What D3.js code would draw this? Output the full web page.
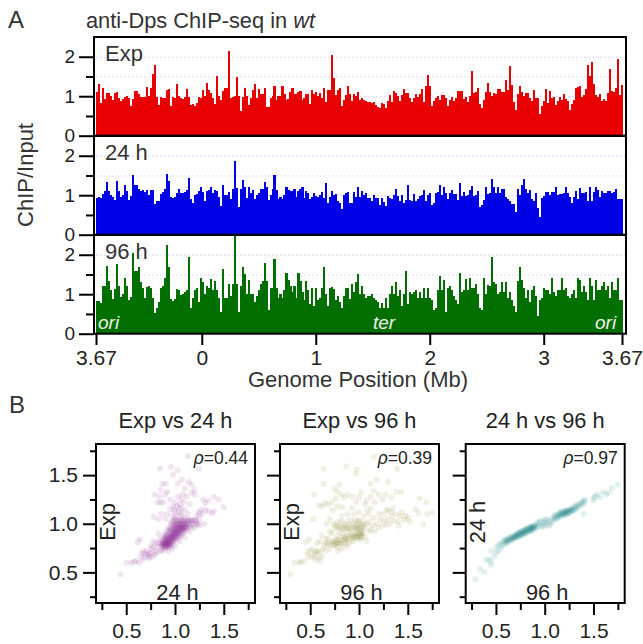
<!DOCTYPE html>
<html lang="en">
<head>
<meta charset="UTF-8">
<title>anti-Dps ChIP-seq in wt</title>
<style>
    body { margin: 0; background: #fff; }
    svg { display: block; }
    text { font-family: "Liberation Sans", Arial, sans-serif; fill: #333; }
    .axis text { fill: #222; }
    .grid { stroke: #d8d8ff; stroke-width: 1; stroke-dasharray: 2 2; }
</style>
</head>
<body>
<div id="chart"></div>
<script src="https://d3js.org/d3.v7.min.js"></script>
<script>
// binned ChIP/Input along the genome
const expValues = [
    1.1,1.3,.82,1.22,.94,1.07,1.07,1.0,.9,1.08,
    1.1,.95,.88,.93,.97,1.0,.95,.75,.92,1.13,
    1.13,1.05,.98,.99,.99,1.24,1.0,1.22,1.56,1.8,
    .98,.78,.97,.96,.96,1.17,1.18,.76,.98,.96,
    1.32,1.0,.95,.93,.98,1.18,.98,.78,.8,.75,
    .82,.98,.95,1.15,1.0,1.33,1.15,1.07,.96,.8,
    1.52,1.0,.9,1.12,1.22,1.2,2.14,.95,.98,1.0,
    1.48,1.0,.62,.97,1.2,1.0,.78,.95,1.15,1.32,
    .95,1.18,1.05,1.05,1.2,.72,.72,.95,1.0,1.25,
    .9,1.0,1.0,1.25,1.05,.9,.92,1.1,1.2,1.05,
    1.05,1.1,1.12,.9,.95,1.05,1.05,.8,1.15,1.05,
    1.1,1.0,
    1.07,.95,1.2,.85,1.15,1.15,2.04,1.45,1.03,1.15,
    1.2,.75,.9,1.03,1.25,1.05,.87,1.05,1.0,1.1,
    .9,.95,.9,.87,.85,.85,.82,.85,.77,.72,
    .7,.82,.8,.7,.88,1.03,.85,1.13,1.07,1.0,
    .87,1.03,1.18,1.07,1.07,.95,.85,.95,1.05,.97,
    1.05,1.18,.85,1.25,1.53,1.25,.75,.88,.95,1.0,
    .9,1.03,1.03,.95,.75,.9,.97,.87,.95,1.13,
    1.13,1.14,.92,.97,.85,1,1.64,1.08,1.1,1.2,
    .8,.7,.9,1.1,1.33,1.1,1,1.08,1.05,1.18,
    1.18,1.1,1.1,1.4,1.15,1.76,1.28,.85,.65,1.05,
    1.25,1.1,1,1.07,1.07,.95,.87,1.15,.95,.95,
    .55,.75,.87,1.18,.82,1.13,.95,.97,.77,.87,
    .97,.9,1.05,.92,.87,.64,.8,.9,1.2,1.23,
    1.25,.97,1.03,1.18,1.79,1.5,1.86,1.3,1.03,.97,
    1.05,.87,.92,.87,1.08,1.68,1.13,1.1,1.2,1.94,
    1.03,1.28
];
const h24Values = [
    .93,.95,.92,1.03,1.1,1.33,1.1,1.0,.95,.88,
    1.37,1.1,.95,1.0,1.25,1.1,.88,.98,1.52,1.25,
    1.27,1.15,1.1,1.13,1.08,1.13,1.0,1.13,1.12,.78,
    .85,.85,1.03,1.08,1.17,1.53,1.35,.95,.94,.96,
    1.05,1.15,1.05,1.06,1.08,1.13,1.43,.9,.8,1.0,
    1.03,1.1,1.2,1.08,.85,1.1,1.13,1.2,1.05,1.13,
    1.1,.95,.72,1.25,1.0,1.0,1.08,.9,1.17,1.87,
    1.18,.7,1.15,1.38,1.2,.92,1.2,1.05,1.12,.9,
    1.0,1.05,1.17,1.17,1.33,1.2,.88,1.0,1.15,1.5,
    1.13,.9,.95,.9,1.0,1.22,1.13,1.1,1.1,1.17,
    .95,1.1,1.15,1.2,.92,1.1,1.05,.9,.95,1.05,
    .98,.95,
    1.0,1.08,.93,1.32,.8,.95,1.1,1.0,1.03,.85,
    .8,.65,1.0,1.05,1.07,.8,.8,1.08,.95,1.22,
    .95,1.1,1.0,1.05,.92,.92,.85,1.0,.92,.93,
    .75,.93,.82,.72,.97,.92,.9,1.0,1.17,.97,
    .85,1.0,.8,.88,1.25,.87,.85,1.02,.85,.9,
    .97,1.0,1.13,.85,1.0,1.05,.75,.8,1.05,1.08,
    1.25,1.0,1.22,1.05,.9,1.05,1.13,1.03,1.03,.88,
    1.3,.98,1.08,.98,1.0,1.13,1.23,.98,1.0,1.1,
    .7,.74,.87,1.22,1.03,1.05,1.4,1.2,1.05,1.2,
    1.05,1.15,1.15,.95,.9,.85,.78,.78,.57,1.15,
    1.0,1.27,1.4,1.17,1.05,1.13,.9,.85,1.05,.67,
    .44,.93,.98,1.08,1.08,1.0,1.07,1.08,1.2,1.0,
    1.03,1.02,1.05,1.2,1.05,.95,.8,.95,1.1,.9,
    1.18,1.05,1.06,1.07,.85,1.2,.85,1.08,1.2,1.13,
    .95,1.1,1.05,1.06,1.1,1.1,1.05,1.08,1.17,.9,
    .9,.9
];
const h96Values = [
    .82,.82,.77,1.2,1.2,1.72,1.33,1.1,.88,1.13,
    1.76,1.2,.92,1.0,1.4,1.2,.85,.92,2.05,1.58,
    1.6,1.68,1.3,1.15,.9,1.18,1.2,1.15,.9,.53,
    .65,.8,1.15,1.2,1.4,2.25,1.7,.87,.84,.87,
    1.13,1.1,.98,1.0,1.05,1.1,1.95,.65,.9,1.1,
    1.15,.8,1.4,1.3,1.0,1.2,1.15,1.38,1.1,1.33,
    1.1,.9,.55,1.65,.9,.9,1.25,.95,1.25,2.55,
    1.27,.55,1.2,1.68,1.5,1.0,1.35,1.0,1.0,.8,
    .95,1.1,1.25,1.33,1.8,1.33,.6,1.15,1.15,1.9,
    1.15,.9,1.0,.9,1.1,1.55,1.35,1.2,1.05,1.2,
    .9,1.55,1.33,1.05,.85,1.33,1.1,.75,1.15,.7,
    1.15,.85,
    .9,1.15,1.68,1.0,.7,1.15,1.18,1.13,.85,.95,
    .8,.65,.95,1.17,1.15,.88,1.25,1.05,1.3,1.5,
    1.0,1.2,1.0,.9,.95,.95,1.0,.9,.85,.8,
    .65,.78,.65,.9,.65,1.0,1.2,1.0,1.3,.95,
    1.1,.7,1.0,1.6,.75,1.05,1.0,1.05,1.1,.9,
    1.05,.9,1.15,.9,1.15,.9,.85,.6,.65,1.1,
    1.47,1.1,1.35,.55,1.15,1.2,1.1,.95,.85,.75,
    1.55,1.05,1.1,1.38,1.1,1.4,1.15,1.15,1.25,1.0,
    .65,.6,1.4,1.0,1.23,1.2,1.95,1.3,1.25,1.0,
    1.05,1.3,1.05,1.3,.9,1.05,.85,.7,.55,1.33,
    1.7,1.35,1.15,.9,1.1,.8,1.1,1.2,.95,.45,
    .85,.9,1.15,1.1,1.1,1.0,1.4,1.05,.95,1.1,
    1.1,1.4,1.1,1.15,.95,.9,1.0,1.1,.9,1.4,
    1.35,1.05,1.2,1.05,.85,1.4,1.2,.85,1.35,1.1,
    1.1,1.2,1.3,1.1,1.2,.9,1.3,1.1,1.1,1.4,
    .85,.85
];

const genomeTicks = [-0.928, 0, 1, 2, 3, 3.687];
const genomeTickLabels = ["3.67", "0", "1", "2", "3", "3.67"];
const trackMajorTicks = [0, 1, 2];
const trackMinorTicks = [0.5, 1.5];
const trackGrid = [1, 1.5, 2];
const scatterMajorTicks = [0.5, 1.0, 1.5];
const scatterMinorTicks = [0.25, 0.75, 1.25, 1.75];

// [x, y] pairs
const exp24Points = [
    [.85,.80],[.86,.78],[.87,.83],[.88,.76],[.88,.86],[.89,.80],[.9,.74],[.9,.84],[.9,.78],[.91,.88],
    [.92,.8],[.92,.76],[.93,.84],[.93,.9],[.94,.78],[.94,.87],[.95,.82],[.95,.95],[.96,.78],[.96,.88],
    [.96,1.02],[.97,.84],[.97,.92],[.98,.8],[.98,.98],[.98,.88],[.99,.86],[.99,1.04],[1.0,.82],[1.0,.92],
    [1.0,.96],[1.0,1.0],[1.01,.88],[1.01,1.04],[1.02,.84],[1.02,.94],[1.03,.9],[1.03,.98],[1.04,.86],[1.04,1.03],
    [1.05,.92],[1.05,.96],[1.05,1.0],[1.06,.88],[1.07,.94],[1.07,1.04],[1.08,.9],[1.08,.98],[1.09,.94],[1.1,.92],
    [1.1,1.02],[1.11,.96],[1.12,1.0],[1.12,.94],[1.13,1.04],[1.14,.98],[1.15,1.02],[1.16,.96],[1.17,1.03],[1.18,1.0],
    [1.2,1.03],[1.22,1.02],[1.24,1.0],[1.25,1.05],[.89,.82],[.91,.79],[.93,.77],[.95,.86],[.97,.81],[.99,.9],
    [1.01,.96],[1.03,.87],[1.06,.97],[1.09,1.0],[.92,.85],[.94,.92],[.96,.94],[.98,.93],[1.02,1.0],[1.04,.95],
    [1.06,1.03],[1.08,.94],[1.0,.87],[.95,.76],[.87,.8],[.9,.81],[.88,.79],[.91,.83],[.93,.8],[.97,.86],
    [1.0,.9],[1.03,.95],[1.07,.99],[1.1,.97],[.94,.82],[.98,.84],[1.02,.89],[1.05,.93],
    [.8,.72],[.78,.82],[.82,.76],[.84,.84],[.76,.74],[.74,.7],[.72,.68],[.7,.66],[.68,.72],[.75,.77],
    [.83,.9],[.8,.8],[.79,.68],[.77,.66],[.73,.64],[.71,.72],[.66,.7],[.85,.72],[.87,.72],[.93,.72],
    [.97,.74],[1.0,.77],[1.05,.82],[1.1,.86],[1.15,.92],[1.2,.96],[1.25,.98],[1.3,1.0],[.75,.7],[.78,.76],
    [.81,.7],[.83,.8],[.86,.74],[.69,.69],[.74,.66],
    [.5,.6],[.55,.6],[.58,.61],[.63,.6],[.62,.81],[.64,.84],[.6,.62],[.65,.66],[.44,.48],[.67,.63],
    [.92,1.1],[.95,1.15],[.97,1.08],[.98,1.18],[1.0,1.12],[1.0,1.22],[1.02,1.08],[1.02,1.18],[1.03,1.28],[1.04,1.12],
    [1.05,1.2],[1.06,1.25],[1.07,1.08],[1.07,1.16],[1.08,1.3],[1.09,1.22],[1.1,1.14],[1.1,1.06],[1.12,1.28],[1.13,1.1],
    [1.15,1.2],[1.17,1.32],[1.2,1.35],[1.22,1.08],[1.25,1.1],[1.28,1.1],[1.04,1.16],[1.06,1.1],[1.0,1.06],[.99,1.14],
    [.9,1.3],[.88,1.22],[.85,1.22],[.82,1.22],[.79,1.3],[.85,1.35],[.92,1.33],[.87,1.41],[.905,1.41],[.84,1.28],
    [.95,1.25],[.78,1.07],[.83,1.05],[.9,1.05],[.86,1.1],
    [1.136,1.694],[.847,1.565],[.956,1.585],[1.03,1.55],[.98,1.51],[1.245,1.565],[1.07,1.455],[1.03,1.415],[1.14,1.43],
    [1.5,1.17],[1.45,1.25],[1.4,1.275],[1.34,1.24],[1.29,1.25],[1.31,1.21],[1.27,1.15],[1.34,1.13],[1.38,1.11],[1.4,1.13],
    [1.31,1.14],[1.24,1.12],[1.2,1.3],[1.17,1.4],[1.1,1.36]
];
// the dark middle of the cloud
const exp24Core = [
    [.87,.78],[.88,.81],[.89,.77],[.89,.85],[.9,.8],[.9,.83],[.91,.76],[.91,.86],[.92,.82],[.92,.78],
    [.93,.86],[.93,.79],[.94,.84],[.94,.8],[.95,.84],[.95,.79],[.95,.9],[.96,.86],[.96,.82],[.97,.88],
    [.97,.95],[.97,.83],[.98,.9],[.98,.86],[.98,1.02],[.99,.94],[.99,.84],[.99,.98],[1.0,.88],[1.0,.94],
    [1.0,.98],[1.01,.9],[1.01,1.0],[1.01,.85],[1.02,.92],[1.02,.96],[1.02,1.03],[1.03,.93],[1.03,1.0],[1.04,.9],
    [1.04,.98],[1.05,.89],[1.05,.98],[1.05,1.03],[1.06,.93],[1.06,1.0],[1.07,.96],[1.07,.91],[1.08,1.02],[1.08,.96],
    [1.09,.97],[1.09,1.03],[1.1,.95],[1.1,1.0],[1.11,.99],[1.12,1.03],[1.12,.97],[1.13,1.0],[1.14,1.03],[1.15,.98],
    [.91,.81],[.93,.82],[.95,.8],[.97,.9],[1.0,.91],[1.03,.92],[1.06,.95],[.88,.78],[.9,.76],[.92,.88],
    [1.16,1.04],[1.18,1.03],[1.19,.98],[1.21,1.04],[1.22,1.0],[.94,.97],[.96,1.0],[.93,.94],[.91,.92],[.89,.89]
];
const exp96Points = [
    [.296,.48],[1.153,1.69],[.636,1.565],[.87,1.59],[.976,1.56],[.966,1.515],[1.39,1.565],[.636,1.41],[.54,1.3],[.59,1.19],
    [.53,1.05],[1.18,1.455],[1.12,1.41],[1.3,1.43],[.8,1.4],[1.75,1.115],[1.7,1.1],[1.66,.99],[1.62,1.26],[1.69,1.22],
    [1.58,1.15],[1.61,1.11],[.34,.6],[.39,.6],[.44,.61],[.455,.81],[.49,.84],[.4,.61],
    [.47,.7],[.5,.72],[.52,.66],[.54,.68],[.56,.72],[.58,.65],[.6,.7],[.62,.66],[.55,.63],[.6,.62],
    [.52,.74],[.48,.66],[.64,.78],[.66,.72],[.68,.8],[.7,.74],[.72,.82],[.74,.78],[.76,.84],[.78,.76],
    [.8,.8],[.82,.74],[.84,.78],[.86,.8],[.88,.76],[.66,.84],[.62,.88],[.6,.82],[.57,.8],[.69,.78],
    [.72,.9],[.75,.95],[.7,.92],[.78,.88],[.8,.92],[.82,.86],[.84,.9],[.86,.96],[.88,.88],[.9,.92],
    [.92,.84],[.94,.88],[.96,.94],[.98,.86],[1.0,.9],[1.02,.84],[1.04,.9],[1.06,.86],[1.08,.82],[1.1,.92],
    [.74,1.0],[.76,.98],[.78,1.02],[.8,.98],[.82,1.03],[.84,1.0],[.86,.98],[.88,1.02],[.9,.99],[.92,1.04],
    [.94,1.0],[.96,1.03],[.98,.99],[1.0,1.04],[1.02,.98],[1.04,1.02],[1.06,.96],[1.08,1.0],[1.1,1.02],[1.12,.94],
    [1.14,.98],[1.16,.92],[1.18,1.0],[1.2,.96],[1.22,1.04],[1.24,.98],[1.26,1.03],[1.28,.99],[1.3,1.05],[1.32,1.0],
    [1.34,1.08],[1.36,1.03],[1.38,1.1],[1.4,1.02],[1.42,1.08],[1.44,1.12],[1.46,1.04],[1.48,1.08],[1.5,1.06],[1.52,1.02],
    [1.41,.98],[1.25,1.1],[1.2,1.1],[1.15,1.06],[1.1,1.1],[1.05,1.08],[1.0,1.12],[.95,1.1],[.88,1.1],[.82,1.08],
    [.67,1.0],[.7,1.05],[.73,1.14],[1.3,1.13],[1.35,1.16],[1.28,1.15],[1.33,1.12],
    [.78,.72],[.9,.8],[.94,.82],[1.02,.9],[1.0,.84],[.97,.86],[.85,.84],[.88,.82],[1.03,.88],[.99,.94],
    [.68,1.2],[.72,1.22],[.76,1.26],[.78,1.18],[.82,1.3],[.85,1.27],[.88,1.3],[.93,1.28],[.97,1.22],[1.0,1.27],
    [1.02,1.32],[1.06,1.2],[1.08,1.24],[1.12,1.28],[1.16,1.22],[1.2,1.3],[1.24,1.25],[1.27,1.3],[1.33,1.27],[1.38,1.33],
    [1.43,1.33],[1.15,1.34],[.65,1.21],[.62,1.18],[.83,1.17],[.93,1.16],[1.08,1.14],[1.12,1.16],[.78,1.33],[.75,1.36]
];
const exp96Core = [
    [.72,.8],[.74,.82],[.75,.79],[.77,.81],[.78,.83],[.79,.8],[.8,.83],[.82,.8],[.83,.83],[.76,.78],
    [.85,.86],[.86,.84],[.88,.85],[.9,.87],[.92,.89],[.94,.86],[.96,.89],[.97,.91],[.98,.88],[1.0,.87],
    [1.01,.9],[1.02,.87],[1.03,.92],[.95,.85],[.85,.94],[.88,.95],[.9,.96],[.92,.94],[.94,.97],[.96,.97],
    [.98,.95],[1.0,.96],[1.02,.94],[1.04,.96],[.83,.96],[.8,.95],[.78,.97],[.99,1.02],[1.01,1.0],[1.05,.99],
    [.68,.85],[.66,.8],[.63,.74],[.58,.72],[.55,.7]
];
const h24h96Points = [
    [.29,.43],[.335,.535],[.38,.5],[.4,.63],[.45,.61],[.45,.72],[.45,.575],[.43,.63],[.48,.66],[.5,.7],
    [.5,.76],[.52,.72],[.53,.78],[.54,.8],[.55,.74],[.56,.78],[.57,.82],[.58,.78],[.59,.83],[.6,.8],
    [.6,.84],[.61,.81],[.62,.85],[.63,.82],[.64,.86],[.65,.83],[.66,.87],[.67,.85],[.68,.88],[.69,.86],
    [.7,.89],[.7,.86],[.71,.87],[.72,.9],[.73,.88],[.74,.91],[.74,.87],[.75,.89],[.76,.92],[.77,.9],
    [.78,.93],[.78,.89],[.79,.91],[.8,.94],[.8,.9],[.81,.92],[.82,.95],[.83,.93],[.84,.96],[.84,.92],
    [.85,.94],[.86,.97],[.86,.93],[.87,.95],[.88,.98],[.88,.95],[.89,.96],[.9,.99],[.62,.81],[.66,.84],
    [.7,.85],[.73,.91],[.77,.93],[.81,.95],[.85,.97],[.89,.93],[.92,.96],[.94,1.0],[.96,1.02],[.98,.98],
    [1.0,1.03],[1.0,.98],[1.02,1.0],[1.03,1.04],[1.05,1.02],[1.06,.99],[1.07,1.05],[1.08,1.02],[1.09,1.07],[1.1,1.04],
    [1.1,1.09],[1.11,1.06],[1.12,1.09],[1.13,1.05],[1.14,1.1],[1.15,1.07],[1.16,1.11],[1.17,1.08],[1.18,1.12],[1.19,1.09],
    [1.2,1.13],[1.2,1.09],[1.21,1.11],[1.22,1.14],[1.23,1.1],[1.24,1.13],[1.25,1.15],[1.26,1.11],[1.27,1.14],[1.28,1.17],
    [1.29,1.13],[1.3,1.16],[1.31,1.19],[1.32,1.15],[1.33,1.18],[1.34,1.2],[1.35,1.17],[1.36,1.21],[1.37,1.19],[1.38,1.22],
    [1.39,1.2],[1.4,1.24],[1.41,1.22],[1.41,1.25],[1.4,1.1],[1.22,1.09],[1.16,1.13],
    [.92,1.01],[.95,1.03],[.97,.97],[1.01,1.05],[1.04,.98],[.91,.98],[.93,.97],[.99,1.01],
    [1.5,1.27],[1.52,1.28],[1.5,1.24],[1.54,1.3],[1.57,1.27],[1.63,1.3],[1.6,1.33],[1.66,1.32],[1.69,1.37],[1.75,1.4]
];
const h24h96Core = [
    [.6,.82],[.62,.83],[.64,.84],[.66,.85],[.68,.86],[.7,.87],[.72,.88],[.74,.89],[.76,.9],[.78,.91],
    [.8,.92],[.82,.93],[.84,.94],[.86,.95],[.88,.96],[.75,.91],[.79,.93],[.83,.95],[.87,.97],[.71,.89],
    [.67,.83],[.73,.86],[.77,.88],[.81,.9],[.85,.92],[.89,.97],
    [1.12,1.07],[1.14,1.08],[1.16,1.09],[1.18,1.1],[1.2,1.11],[1.22,1.12],[1.24,1.11],[1.26,1.13],[1.28,1.14],[1.3,1.14],
    [1.15,1.1],[1.19,1.11],[1.23,1.13],[1.27,1.15],[1.32,1.17],[1.21,1.13],[1.25,1.12]
];

const svg = d3.select("#chart").append("svg")
    .attr("width", 643)
    .attr("height", 644);

const trackLeft = 94, trackRight = 626, trackHeight = 98.7;

const genomeScale = d3.scaleLinear()
    .domain([-0.928, 3.687])
    .range([96, 622]);

function styleAxis(g, size) {
    g.select(".domain").remove();
    g.selectAll("line").attr("stroke", "#000").attr("stroke-width", 2);
    g.selectAll("text").style("font-size", size + "px");
}

function drawTrack(values, color, top, label) {
    const y = d3.scaleLinear().domain([0, 2.5]).range([top + trackHeight, top]);
    const x = d3.scaleBand().domain(d3.range(values.length)).range([96, 622.5]);
    const g = svg.append("g");

    g.selectAll(".grid").data(trackGrid).enter().append("line")
        .attr("class", "grid")
        .attr("x1", 96)
        .attr("x2", trackRight)
        .attr("y1", d => y(d) + 0.5)
        .attr("y2", d => y(d) + 0.5);

    g.selectAll(".bar").data(values).enter().append("rect")
        .attr("class", "bar")
        .attr("x", (d, i) => x(i))
        .attr("width", x.bandwidth() + 0.1)
        .attr("y", d => y(Math.min(d, 2.5)))
        .attr("height", d => y(0) - y(Math.min(d, 2.5)))
        .attr("fill", color)
        .attr("shape-rendering", "crispEdges");

    g.append("g").attr("class", "axis")
        .attr("transform", "translate(" + trackLeft + ",0)")
        .call(d3.axisLeft(y).tickValues(trackMajorTicks).tickSize(15).tickPadding(4).tickFormat(d3.format("d")))
        .call(styleAxis, 19);
    g.append("g").attr("class", "axis")
        .attr("transform", "translate(" + trackLeft + ",0)")
        .call(d3.axisLeft(y).tickValues(trackMinorTicks).tickSize(8).tickFormat(""))
        .call(styleAxis, 19);

    g.append("text")
        .attr("x", 105)
        .attr("y", top + 24)
        .style("font-size", "22px")
        .text(label);

    g.append("rect")
        .attr("x", trackLeft)
        .attr("y", top)
        .attr("width", trackRight - trackLeft)
        .attr("height", trackHeight)
        .attr("fill", "none")
        .attr("stroke", "#000")
        .attr("stroke-width", 2);
}

drawTrack(expValues, "#e80000", 37, "Exp");
drawTrack(h24Values, "#0000e6", 136, "24 h");
drawTrack(h96Values, "#006f00", 235, "96 h");

// genome axis
svg.append("g").attr("class", "axis")
    .attr("transform", "translate(0,334)")
    .call(d3.axisBottom(genomeScale).tickValues(genomeTicks).tickSize(11).tickPadding(5)
        .tickFormat((d, i) => genomeTickLabels[i]))
    .call(styleAxis, 21);

svg.append("text")
    .attr("x", 358)
    .attr("y", 387)
    .attr("text-anchor", "middle")
    .style("font-size", "22px")
    .text("Genome Position (Mb)");

svg.append("text")
    .attr("transform", "translate(33,175) rotate(-90)")
    .attr("text-anchor", "middle")
    .style("font-size", "22px")
    .text("ChIP/Input");

[["ori", 98], ["ter", 373], ["ori", 595]].forEach(d => {
    svg.append("text")
        .attr("x", d[1])
        .attr("y", 329)
        .style("font-size", "19px")
        .style("font-style", "italic")
        .style("fill", "#f0f0e8")
        .text(d[0]);
});

// titles and panel letters
const title = svg.append("text")
    .attr("x", 86)
    .attr("y", 28)
    .style("font-size", "21.8px");
title.append("tspan").text("anti-Dps ChIP-seq in ");
title.append("tspan").style("font-style", "italic").text("wt");

svg.append("text").attr("x", 8).attr("y", 28).style("font-size", "24px").text("A");
svg.append("text").attr("x", 9).attr("y", 413).style("font-size", "24px").text("B");

function drawScatter(points, color, left, name, rho, xLabel, yLabel, showLabels) {
    const size = 159, top = 444;
    const x = d3.scaleLinear().domain([0.19, 1.82]).range([left, left + size]);
    const y = d3.scaleLinear().domain([0.185, 1.82]).range([top + size, top]);
    const g = svg.append("g");

    g.selectAll("circle").data(points).enter().append("circle")
        .attr("cx", d => x(d[0]))
        .attr("cy", d => y(d[1]))
        .attr("r", 3)
        .attr("fill", color)
        .attr("fill-opacity", 0.12);

    g.append("g").attr("class", "axis")
        .attr("transform", "translate(" + left + ",0)")
        .call(d3.axisLeft(y).tickValues(scatterMajorTicks).tickSize(13).tickPadding(5)
            .tickFormat(showLabels ? d3.format(".1f") : ""))
        .call(styleAxis, 21);
    g.append("g").attr("class", "axis")
        .attr("transform", "translate(" + left + ",0)")
        .call(d3.axisLeft(y).tickValues(scatterMinorTicks).tickSize(6).tickFormat(""))
        .call(styleAxis, 21);
    g.append("g").attr("class", "axis")
        .attr("transform", "translate(0," + (top + size) + ")")
        .call(d3.axisBottom(x).tickValues(scatterMajorTicks).tickSize(12).tickPadding(8).tickFormat(d3.format(".1f")))
        .call(styleAxis, 21);
    g.append("g").attr("class", "axis")
        .attr("transform", "translate(0," + (top + size) + ")")
        .call(d3.axisBottom(x).tickValues(scatterMinorTicks).tickSize(7).tickFormat(""))
        .call(styleAxis, 21);

    g.append("rect")
        .attr("x", left)
        .attr("y", top)
        .attr("width", size)
        .attr("height", size)
        .attr("fill", "none")
        .attr("stroke", "#000")
        .attr("stroke-width", 2);

    g.append("text")
        .attr("x", left + size / 2)
        .attr("y", 428)
        .attr("text-anchor", "middle")
        .style("font-size", "21.8px")
        .style("fill", "#222")
        .text(name);

    const rhoText = g.append("text")
        .attr("x", left + size - 7)
        .attr("y", 464)
        .attr("text-anchor", "end")
        .style("font-size", "17.5px")
        .style("fill", "#222");
    rhoText.append("tspan").style("font-style", "italic").text("\u03c1");
    rhoText.append("tspan").text("=" + rho);

    g.append("text")
        .attr("x", left + size / 2 + 2)
        .attr("y", 600)
        .attr("text-anchor", "middle")
        .style("font-size", "21.8px")
        .style("fill", "#222")
        .text(xLabel);

    g.append("text")
        .attr("transform", "translate(" + (left + 19) + ",522) rotate(-90)")
        .attr("text-anchor", "middle")
        .style("font-size", "21.8px")
        .style("fill", "#222")
        .text(yLabel);
}

drawScatter(exp24Points.concat(exp24Core), "#8a2a98", 96, "Exp vs 24 h", "0.44", "24 h", "Exp", true);
drawScatter(exp96Points.concat(exp96Core), "#87872a", 280, "Exp vs 96 h", "0.39", "96 h", "Exp", false);
drawScatter(h24h96Points.concat(h24h96Core), "#1a8484", 465.7, "24 h vs 96 h", "0.97", "96 h", "24 h", false);
</script>
</body>
</html>
